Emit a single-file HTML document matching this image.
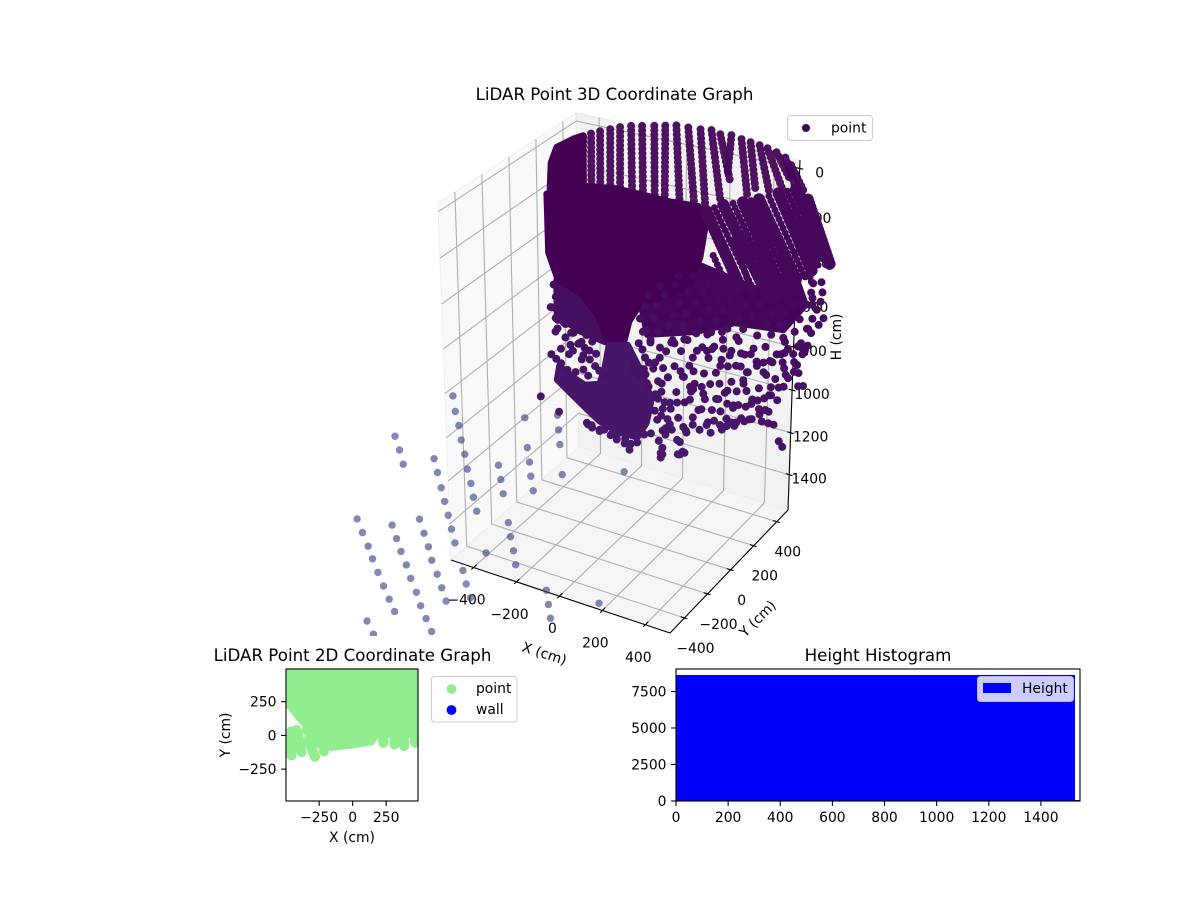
<!DOCTYPE html>
<html lang="en">
<head>
<meta charset="utf-8">
<title>LiDAR Point Graphs</title>
<style>
html,body{margin:0;padding:0;background:#fff;}
svg{display:block;font-family:"DejaVu Sans","Liberation Sans",sans-serif;font-size:13.89px;fill:#000;}
</style>
</head>
<body>
<svg id="figure" xmlns="http://www.w3.org/2000/svg" width="1200" height="900" viewBox="0 0 1200 900">
  <defs>
    <clipPath id="clip3d"><rect x="0" y="0" width="1200" height="636"></rect></clipPath>
    <clipPath id="clip2d"><rect x="286" y="669" width="132" height="132"></rect></clipPath>
  </defs>
  <g id="axes3d"></g>
  <g id="points3d" clip-path="url(#clip3d)"></g>
  <text x="614.5" y="100" text-anchor="middle" font-size="16.67">LiDAR Point 3D Coordinate Graph</text>
  <g>
    <rect x="787.5" y="115.5" width="85" height="25" rx="3" fill="#fff" fill-opacity="0.8" stroke="#ccc"></rect>
    <circle cx="806" cy="128" r="4" fill="#440154"></circle>
    <text x="831" y="132.5">point</text>
  </g>
  <rect x="286" y="669" width="132" height="132" fill="#fff"></rect>
  <g id="plot2d"></g>
  <text x="352.5" y="661" text-anchor="middle" font-size="16.67">LiDAR Point 2D Coordinate Graph</text>
  <text x="352" y="842" text-anchor="middle">X (cm)</text>
  <text x="0" y="0" text-anchor="middle" transform="translate(230,735) rotate(-90)">Y (cm)</text>
  <g>
    <rect x="431.5" y="676.5" width="85.5" height="45.5" rx="3" fill="#fff" fill-opacity="0.8" stroke="#ccc"></rect>
    <circle cx="451.5" cy="689" r="4.9" fill="#90ee90"></circle>
    <text x="476" y="693">point</text>
    <circle cx="451.5" cy="710" r="4.9" fill="#0000ff"></circle>
    <text x="476" y="714">wall</text>
  </g>
  <rect x="676" y="669" width="404" height="132" fill="#fff"></rect>
  <g id="hist"></g>
  <text x="878" y="661" text-anchor="middle" font-size="16.67">Height Histogram</text>
  <g>
    <rect x="977.5" y="676.5" width="96" height="25" rx="3" fill="#fff" fill-opacity="0.8" stroke="#ccc" stroke-opacity="0.8"></rect>
    <rect x="983" y="683" width="28" height="10" fill="#0000ff"></rect>
    <text x="1022" y="693">Height</text>
  </g>
</svg>
<script>
// ---------- 3D axis data ----------
const xLim3d = [-505, 515];
const yLim3d = [-525, 497];
const hLim3d = [-37, 1570];
const xTicks3d = [-400, -200, 0, 200, 400];
const yTicks3d = [-400, -200, 0, 200, 400];
const hTicks3d = [0, 200, 400, 600, 800, 1000, 1200, 1400];

// Solid, overlapping part of the cloud: outlines as [x, h]
const frontPlaneY = 0;
const backPlaneY = 400;
const frontMass = [[-338,88],[-189,16],[-22,-9],[113,-9],[217,-7],[352,-16],[384,63],[361,203],[307,343],[194,414],[95,460],[36,565],[5,694],[-54,708],[-113,568],[-189,495],[-293,461],[-334,349]];
const upperLeftBlock = [[-316,-53],[-289,-128],[-212,-182],[-167,-206],[-167,47],[-325,107]];
const bowlMass = [[-549,1195],[-481,1245],[-404,1300],[-345,1340],[-254,1365],[-163,1365],[-118,1280],[-95,1160],[-140,1048],[-209,930],[-300,955],[-322,1080],[-345,1155],[-413,1180],[-481,1155],[-536,1120]];
const midMass = [[-163,660],[110,470],[382,517],[564,408],[619,535],[519,673],[291,698],[110,785],[-118,858]];
const leftMass = [[-545,710],[-391,732],[-318,947],[-436,927],[-545,881]];

// Scan strips as [xStart, hStart, xEnd, hEnd]
const backStrips = [
[-413,12,-418,239],[-377,-10,-377,230],[-336,-29,-336,221],[-290,-48,-290,216],[-245,-67,-245,215],
[-195,-83,-190,217],[-145,-93,-140,225],[-90,-105,-86,227],[-40,-116,-40,226],[10,-127,28,216],
[64,-129,96,219],[119,-132,146,208],[169,-139,214,161],[209,-129,255,60],[259,-135,246,29],
[305,-127,337,120],[346,-122,373,80],[387,-117,437,80],[423,-111,496,53],[464,-102,528,1],
[505,-87,564,53],[532,-60,596,46]];
const rightStrips = [
[149,222,323,543],[228,178,414,490],[318,147,493,475],[391,118,575,441],
[479,73,648,391],[557,40,694,310],[612,72,725,337]];
const secondaryStrips = [
[186,415,284,593],[284,320,387,593],[378,270,468,539],[468,245,553,472],[561,189,643,432],
[188,200,368,516],[273,162,453,482],[354,132,534,458],[435,95,611,416],[518,56,671,350],[585,56,710,323]];

// Individually visible points as [x, h]
const scatterPoints = [
[-558,735],[-548,790],[-556,845],[-540,900],[-552,960],[-530,760],[-520,835],[-512,905],[-505,975],[-495,880],[-488,805],[-478,945],[-470,1030],[-462,870],
[-450,920],[-440,985],[-428,1060],[-415,1000],[-402,890],[-390,1050],[-378,960],[-365,1075],
[-400,1371],[-381,1381],[-345,1387],[-322,1373],[-286,1383],[-263,1388],[-222,1388],[-195,1405],[-50,1406],[-50,1429],[32,1388],[55,1369],[530,1210],[-627,1300],[-540,1350],
[563,425],[612,410],[650,432],[688,418],
[424,478],[468,495],[533,470],[578,490],[642,475],[694,462],
[28,545],[92,530],[163,552],[228,535],[304,548],[362,530],[431,552],[492,538],[558,549],[622,533],[671,545],
[-58,612],[12,590],[73,607],[141,588],[212,610],[268,595],[343,604],[401,588],[462,612],[528,592],[593,606],[652,590],[703,575],
[-112,672],[-38,650],[33,668],[108,648],[173,666],[238,652],[312,670],[372,648],[443,664],[502,652],[572,668],[628,640],[682,610],
[-128,728],[-72,710],[3,735],[62,712],[128,730],[203,708],[258,732],[332,715],[398,728],[463,708],[528,725],[603,712],[648,655],
[-152,790],[-88,770],[-18,792],[52,772],[113,790],[182,768],[238,788],[312,775],[382,792],[438,770],[512,785],[568,770],[622,740],
[-138,848],[-68,830],[2,852],[72,832],[142,848],[198,830],[272,852],[342,830],[398,848],[472,832],[528,845],[588,815],
[-158,908],[-102,890],[-28,912],[42,892],[98,908],[172,890],[228,912],[302,892],[358,908],[432,888],[488,905],[548,885],[596,850],
[-128,968],[-58,950],[12,972],[82,950],[152,968],[208,950],[282,972],[338,950],[412,968],[468,948],[528,930],
[-152,1028],[-88,1010],[-18,1032],[52,1010],[108,1028],[182,1010],[252,1032],[308,1010],[382,1028],[438,1008],[470,985],[500,1000],
[-118,1088],[-48,1070],[22,1092],[92,1070],[158,1088],[222,1070],[292,1092],[352,1070],[418,1088],[378,1050],[445,1060],
[-138,1148],[-78,1130],[-8,1152],[62,1130],[128,1148],[192,1130],[262,1152],[332,1130],[382,1120],[300,1175],[232,1190],
[-108,1208],[-42,1190],[32,1212],[102,1190],[168,1208],[135,1240],[68,1262],[-8,1255],
[-128,1268],[-68,1250],[2,1278],[-98,1325],[-28,1310],[28,1320],[-60,1350],[-130,1340],
[513,1188],[520,820],[536,873],[574,805],[574,850],[596,910],[619,903],[505,940],[611,760],[634,715],[604,730],[589,730],[634,640],[687,505],[649,498],[649,528],[604,528],[528,775],[543,753],[520,708],
[430,1118],[461,1118],[486,1118],[370,1125],[347,1140],[309,1156],[286,1163],[264,1186],[241,1209],[203,1178],[173,1194],[142,1140],[188,1239],[407,1026],[461,988],[415,1064],[461,1064],[233,1125],[264,1080],[294,1080],[317,1072],[211,1072],[142,1034],[150,1064],[226,996],[264,1019],[354,996],[339,966],[264,905],[324,890],[354,909],[233,882],[165,859],[188,844],[491,791],[400,867],[445,897],[461,829],[430,844],[324,829],[370,821],[279,829],[241,829],[301,760],[233,753],[165,783],
[102,1225],[57,1249],[72,1272],[41,1326],[87,1110],[117,871],[11,864],[-57,902],[-102,879],[-125,840],[-140,933],[-110,987],[-80,979],[-42,995],[-19,1033],[41,987],[57,1010],[102,971],[87,1048],[102,1056],[-65,1064],[-49,1110],[-65,1148],[-34,1156],[-4,1179],[26,1141],[-49,1225],[-19,1233],[-42,1295],[-27,1279],[-42,1379],[-42,1410],[41,1387],[64,1372],[-80,1210],[-156,1071],[-133,1025],[-125,1048],[-110,1102],[57,833],[-4,864],
[-186,1014],[-194,1053],[-156,1053],[-421,1038],[-391,1007],[-360,1014],[-421,1108],[-398,1131],[-345,1092],[-315,1108],[-429,975],[-406,936],[-429,843],[-398,858],[-406,1365],[-383,1370],[-345,1381],[-323,1373],[-292,1392],[-262,1404],[-224,1412],[-201,1436],[-164,1389],
[-573,1076],[-550,1092],[-527,1107],[-497,1131],[-459,1131],[-482,1005],[-489,1052],[-527,1036],[-444,989],[-550,894],[-573,847],[-542,942],[-504,910],[-466,942]
];

// Far, faded points (shown paler) as [x, h]
const fadedPoints = [
[-1080,1432],[-1061,1495],[-1046,1561],
[-796,1145],[-787,1217],[-772,1281],[-763,1349],[-748,1414],[-738,1484],[-723,1550],[-713,1615],[-699,1680],
[-896,1484],[-882,1548],[-867,1619],[-853,1683],[-838,1748],[-824,1813],[-810,1878],
[-588,1417],[-579,1484],[-569,1551],
[-458,1148],[-449,1288],[-440,1355],[-435,1422],[-425,1489],
[-303,1090],[-299,1158],[-294,1226],[-285,1367],[9,1264],
[-548,1686],[-539,1753],[-526,1819],[-517,1886],[-660,1876],
[-1283,1923],[-1260,1986],[-1236,2048],[-1217,2107],[-1194,2170],[-1169,2232],[-1144,2292],[-1120,2348],
[-1113,1894],[-1094,1957],[-1075,2016],[-1052,2078],[-1033,2141],[-1008,2204],[-989,2268],[-965,2326],[-940,2384],
[-978,1816],[-959,1881],[-940,1944],[-926,2008],[-902,2071],[-882,2134],[-863,2196],
[-775,2006],[-761,2070],[-742,2134],[-1260,2454],[-1231,2513],
[-371,1963],[-362,2031],[-353,2097],[-116,1939]
];

// ---------- 2D plot data ----------
const xLim2d = [-497, 487];
const yLim2d = [-486, 492];
const xTicks2d = [-250, 0, 250];
const yTicks2d = [-250, 0, 250];
const footprintX = [-493,492,492,190,154,4,-145,-182,-200,-270,-340,-380,-373,-418,-480,-493];
const footprintY = [489,489,-20,-20,-72,-97,-114,-115,-100,-90,-30,30,64,113,192,200];
// Radial point runs along the footprint edge as [xStart, yStart, xEnd, yEnd]
const footprintRuns = [
[465,0,465,-55],[383,0,383,-79],[311,0,311,-67],[228,0,228,-55],
[-214,-40,-214,-119],[-330,-35,-281,-158],[-418,40,-381,-124],[-456,30,-456,-148]];

// ---------- Histogram data ----------
const histLimX = [0, 1550];
const histLimY = [0, 9040];
const histTicksX = [0, 200, 400, 600, 800, 1000, 1200, 1400];
const histTicksY = [0, 2500, 5000, 7500];
const histEdges = [0,100,200,300,400,500,600,700,800,900,1000,1100,1200,1300,1400,1500,1531,1550];
const histCounts = [8630,8630,8630,8630,8630,8630,8630,8630,8630,8630,8630,8630,8630,8630,8630,8630,60];

// ---------- Helpers ----------
const NS = 'http://www.w3.org/2000/svg';
function el(tag, attrs, parent) {
  const node = document.createElementNS(NS, tag);
  for (const key in attrs) node.setAttribute(key, attrs[key]);
  parent.appendChild(node);
  return node;
}
function fmt(v) { return String(v).replace('-', '\u2212'); }
function lerp(a, b, f) { return a + (b - a) * f; }

// 3D box corners in figure pixels: floor and top of the axes cube
const floorCorners = { x0y0: [451, 560], x1y0: [670, 633], x1y1: [788, 510], x0y1: [579, 447] };
const topCorners = { x0y0: [438, 203], x1y0: [666, 262], x1y1: [800, 160], x0y1: [576, 113] };
const depthWarp = 0.055;
function bilinear(c, u, v, i) {
  return lerp(lerp(c.x0y0[i], c.x1y0[i], u), lerp(c.x0y1[i], c.x1y1[i], u), v);
}
function project(x, y, h) {
  const u = (x - xLim3d[0]) / (xLim3d[1] - xLim3d[0]);
  const v = (y - yLim3d[0]) / (yLim3d[1] - yLim3d[0]);
  const t = (h - hLim3d[0]) / (hLim3d[1] - hLim3d[0]);
  const w = t * (1 + depthWarp) / (1 + depthWarp * t);
  return [
    lerp(bilinear(topCorners, u, v, 0), bilinear(floorCorners, u, v, 0), w),
    lerp(bilinear(topCorners, u, v, 1), bilinear(floorCorners, u, v, 1), w)
  ];
}
function pts(list) { return list.map(p => p[0].toFixed(1) + ',' + p[1].toFixed(1)).join(' '); }
function pointColor(h) {
  const f = Math.max(0, Math.min(1, h / 1400));
  return 'rgb(' + Math.round(lerp(68, 71, f)) + ',' + Math.round(lerp(1, 24, f)) + ',' + Math.round(lerp(84, 108, f)) + ')';
}

// ---------- 3D axes ----------
const axes3d = document.getElementById('axes3d');
const [x0, x1] = xLim3d, [y0, y1] = yLim3d, [h0, h1] = hLim3d;
const leftPane = el('polygon', { points: pts([project(x0,y0,h0), project(x0,y1,h0), project(x0,y1,h1), project(x0,y0,h1)]), fill: '#f9f9f9', stroke: '#eeeeee' }, axes3d);


const backPane = el('polygon', { points: pts([project(x0,y1,h0), project(x1,y1,h0), project(x1,y1,h1), project(x0,y1,h1)]), fill: '#f2f2f2', stroke: '#e8e8e8' }, axes3d);


const floorPane = el('polygon', { points: pts([project(x0,y0,h1), project(x1,y0,h1), project(x1,y1,h1), project(x0,y1,h1)]), fill: '#f5f5f5', stroke: '#eeeeee' }, axes3d);



function grid3d(a, b, name) {
  const line = el('polyline', { points: pts([a, b]), fill: 'none', stroke: '#b0b0b0', 'stroke-width': 1.1 }, axes3d);
  
  
}
xTicks3d.forEach(x => {
  grid3d(project(x, y0, h1), project(x, y1, h1), 'x-floor-grid-line');
  grid3d(project(x, y1, h1), project(x, y1, h0), 'x-wall-grid-line');
});
yTicks3d.forEach(y => {
  grid3d(project(x0, y, h1), project(x1, y, h1), 'y-floor-grid-line');
  grid3d(project(x0, y, h1), project(x0, y, h0), 'y-wall-grid-line');
});
hTicks3d.forEach(h => {
  grid3d(project(x0, y0, h), project(x0, y1, h), 'h-left-grid-line');
  grid3d(project(x0, y1, h), project(x1, y1, h), 'h-back-grid-line');
});
function axisLine(a, b, name) {
  const line = el('polyline', { points: pts([a, b]), fill: 'none', stroke: '#000', 'stroke-width': 1.1 }, axes3d);
  
  
}
axisLine(project(x0, y0, h1), project(x1, y0, h1), 'x-axis-line');
axisLine(project(x1, y0, h1), project(x1, y1, h1), 'y-axis-line');
axisLine(project(x1, y1, h1), project(x1, y1, h0), 'h-axis-line');

xTicks3d.forEach(x => {
  axisLine(project(x, y0 - 18, h1), project(x, y0 + 25, h1), 'x-tick');
  const p = project(x, y0, h1);
  const label = el('text', { x: p[0] - 7, y: p[1] + 37, 'text-anchor': 'middle' }, axes3d);
  label.textContent = fmt(x);
  
  
});
yTicks3d.forEach(y => {
  axisLine(project(x1 + 14, y, h1), project(x1 - 18, y, h1), 'y-tick');
  const p = project(x1, y, h1);
  const label = el('text', { x: p[0] + 11, y: p[1] + 35, 'text-anchor': 'middle' }, axes3d);
  label.textContent = fmt(y);
  
  
});
hTicks3d.forEach(h => {
  axisLine(project(x1 - 16, y1, h), project(x1 + 16, y1, h), 'h-tick');
  const p = project(x1, y1, h);
  const label = el('text', { x: p[0] + 20, y: p[1] + 9, 'text-anchor': 'middle' }, axes3d);
  label.textContent = fmt(h);
  
  
});
const xTitle3d = el('text', { x: 0, y: 0, 'text-anchor': 'middle', transform: 'translate(543,658) rotate(18)' }, axes3d);
xTitle3d.textContent = 'X (cm)';


const yTitle3d = el('text', { x: 0, y: 0, 'text-anchor': 'middle', transform: 'translate(761,622) rotate(-45)' }, axes3d);
yTitle3d.textContent = 'Y (cm)';


const hTitle3d = el('text', { x: 0, y: 0, 'text-anchor': 'middle', transform: 'translate(841,337) rotate(-90)' }, axes3d);
hTitle3d.textContent = 'H (cm)';



// ---------- 3D marks ----------
const cloud = document.getElementById('points3d');
fadedPoints.forEach(p => {
  const q = project(p[0], frontPlaneY, p[1]);
  const dot = el('circle', { cx: q[0].toFixed(1), cy: q[1].toFixed(1), r: 3.7, fill: '#3e4a89', 'fill-opacity': 0.65 }, cloud);
  
  
});
backStrips.forEach(s => {
  const line = el('polyline', { points: pts([project(s[0], backPlaneY, s[1]), project(s[2], backPlaneY, s[3])]), fill: 'none', stroke: '#450557', 'stroke-opacity': 0.95, 'stroke-width': 8, 'stroke-linecap': 'round', 'stroke-dasharray': '0 4.6' }, cloud);
  
  
});
function massShape(list, y, color, name) {
  const shape = el('polygon', { points: pts(list.map(p => project(p[0], y, p[1]))), fill: color, stroke: color, 'stroke-width': 6, 'stroke-linejoin': 'round' }, cloud);
  
  
}
massShape(upperLeftBlock, frontPlaneY, '#440154', 'upper-left-point-mass');
massShape(leftMass, backPlaneY, '#460f60', 'left-point-mass');
massShape(midMass, backPlaneY, '#45075a', 'middle-point-mass');
massShape(frontMass, frontPlaneY, '#440154', 'front-wall-point-mass');
massShape(bowlMass, backPlaneY, '#47166b', 'lower-bowl-point-mass');
secondaryStrips.forEach(s => {
  const line = el('polyline', { points: pts([project(s[0], backPlaneY, s[1]), project(s[2], backPlaneY, s[3])]), fill: 'none', stroke: '#45085a', 'stroke-width': 7, 'stroke-linecap': 'round', 'stroke-dasharray': '0 5' }, cloud);
  
  
});
rightStrips.forEach(s => {
  const line = el('polyline', { points: pts([project(s[0], backPlaneY, s[1]), project(s[2], backPlaneY, s[3])]), fill: 'none', stroke: '#45085a', 'stroke-width': 12, 'stroke-linecap': 'round', 'stroke-dasharray': '0 4' }, cloud);
  
  
});
scatterPoints.forEach(p => {
  const q = project(p[0], backPlaneY, p[1]);
  const dot = el('circle', { cx: q[0].toFixed(1), cy: q[1].toFixed(1), r: 4, fill: pointColor(p[1]) }, cloud);
  
  
});

// ---------- 2D plot ----------
const plot2d = document.getElementById('plot2d');
function sx2d(v) { return 286 + (v - xLim2d[0]) / (xLim2d[1] - xLim2d[0]) * 132; }
function sy2d(v) { return 801 - (v - yLim2d[0]) / (yLim2d[1] - yLim2d[0]) * 132; }
const footprint = el('polygon', { points: pts(footprintX.map((x, i) => [sx2d(x), sy2d(footprintY[i])])), fill: '#90ee90', 'clip-path': 'url(#clip2d)' }, plot2d);


footprintRuns.forEach(r => {
  const run = el('line', { x1: sx2d(r[0]), y1: sy2d(r[1]), x2: sx2d(r[2]), y2: sy2d(r[3]), stroke: '#90ee90', 'stroke-width': 10, 'stroke-linecap': 'round', 'clip-path': 'url(#clip2d)' }, plot2d);
  
  
});
const frame2d = el('rect', { x: 286, y: 669, width: 132, height: 132, fill: 'none', stroke: '#000', 'stroke-width': 1.1 }, plot2d);


xTicks2d.forEach(v => {
  const tick = el('line', { x1: sx2d(v), x2: sx2d(v), y1: 801, y2: 805.9, stroke: '#000', 'stroke-width': 1.1 }, plot2d);
  
  
  const label = el('text', { x: sx2d(v), y: 822, 'text-anchor': 'middle' }, plot2d);
  label.textContent = fmt(v);
  
  
});
yTicks2d.forEach(v => {
  const tick = el('line', { x1: 281.1, x2: 286, y1: sy2d(v), y2: sy2d(v), stroke: '#000', 'stroke-width': 1.1 }, plot2d);
  
  
  const label = el('text', { x: 276.5, y: sy2d(v) + 5, 'text-anchor': 'end' }, plot2d);
  label.textContent = fmt(v);
  
  
});

// ---------- Histogram ----------
const hist = document.getElementById('hist');
function sxHist(v) { return 676 + (v - histLimX[0]) / (histLimX[1] - histLimX[0]) * 404; }
function syHist(v) { return 801 - (v - histLimY[0]) / (histLimY[1] - histLimY[0]) * 132; }
histCounts.forEach((c, i) => {
  const bar = el('rect', { x: sxHist(histEdges[i]), y: syHist(c), width: sxHist(histEdges[i + 1]) - sxHist(histEdges[i]), height: 801 - syHist(c), fill: '#0000ff', 'shape-rendering': 'crispEdges' }, hist);
  
  
});
const frameHist = el('rect', { x: 676, y: 669, width: 404, height: 132, fill: 'none', stroke: '#000', 'stroke-width': 1.1 }, hist);


histTicksX.forEach(v => {
  const tick = el('line', { x1: sxHist(v), x2: sxHist(v), y1: 801, y2: 805.9, stroke: '#000', 'stroke-width': 1.1 }, hist);
  
  
  const label = el('text', { x: sxHist(v), y: 822, 'text-anchor': 'middle' }, hist);
  label.textContent = fmt(v);
  
  
});
histTicksY.forEach(v => {
  const tick = el('line', { x1: 671.1, x2: 676, y1: syHist(v), y2: syHist(v), stroke: '#000', 'stroke-width': 1.1 }, hist);
  
  
  const label = el('text', { x: 666.5, y: syHist(v) + 5, 'text-anchor': 'end' }, hist);
  label.textContent = fmt(v);
  
  
});
</script>
</body>
</html>
